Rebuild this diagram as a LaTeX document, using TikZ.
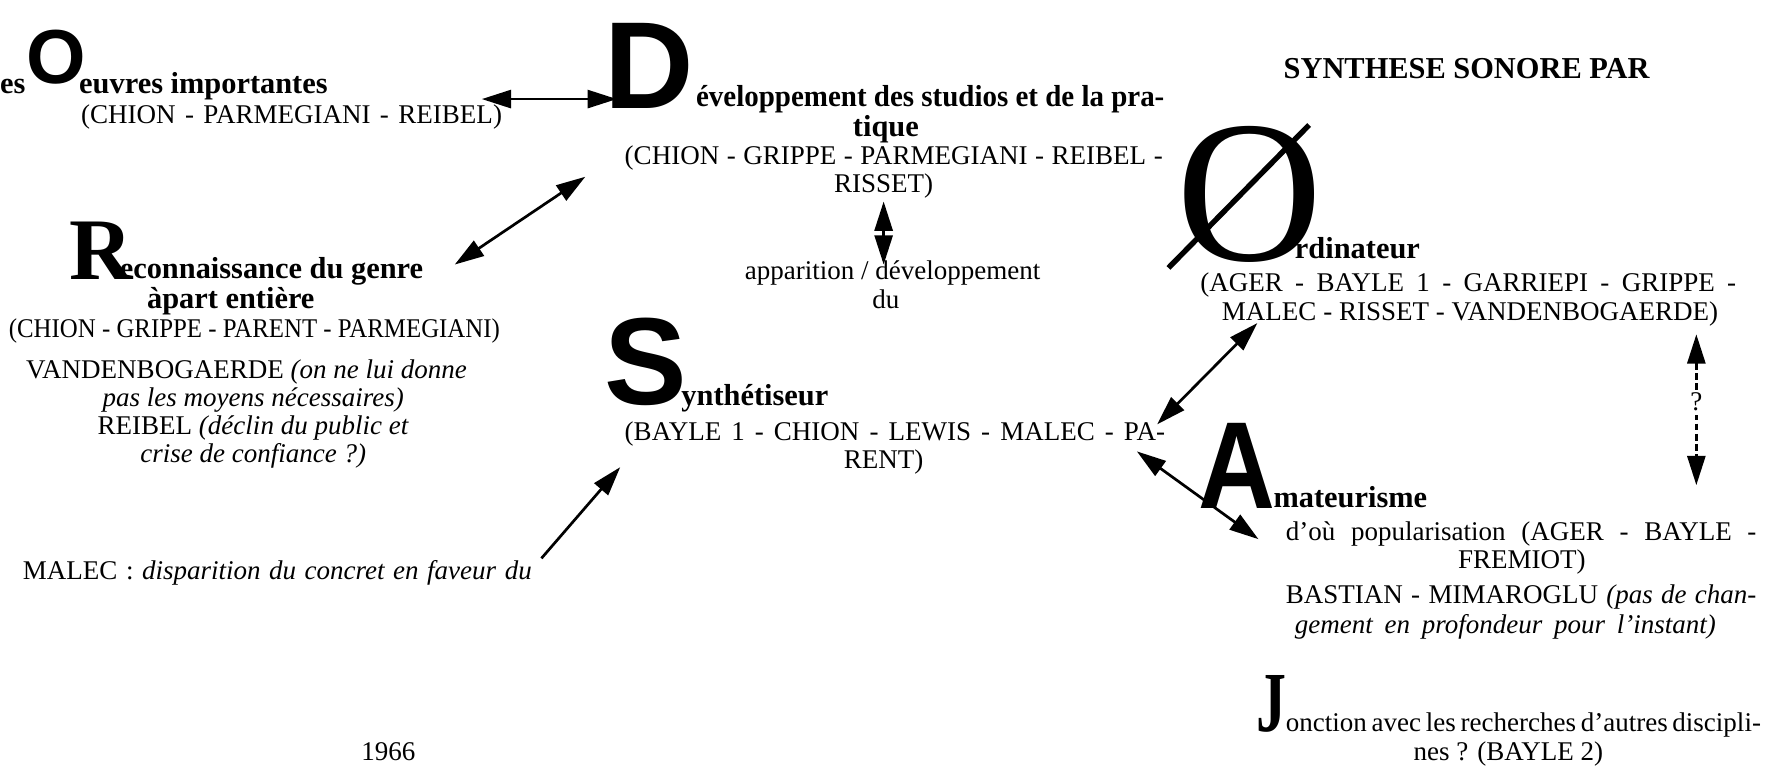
\documentclass[tikz,border=0pt]{standalone}
\usepackage{fontspec}
\usepackage{graphicx}
\setmainfont{Liberation Serif}
\newfontfamily\grotesk{Liberation Sans}
\usetikzlibrary{arrows.meta}
\newcommand\bodysize{\fontsize{12}{12.5}\selectfont}
\newcommand\headsize{\fontsize{13.5}{14}\selectfont\bfseries}
\newcommand\spread[2]{\makebox[#1][s]{#2}}
\newcommand\squeeze[2]{\resizebox{#1}{\height}{#2}}
\tikzset{
  txt/.style={inner sep=0pt, font=\bodysize},
  head/.style={inner sep=0pt, font=\headsize},
  initsans/.style={inner sep=0pt, font={\fontsize{#1}{#1}\grotesk\bfseries}},
  initserif/.style={inner sep=0pt, font={\fontsize{#1}{#1}\selectfont\bfseries}},
  tip/.style={Triangle[length=13pt,width=8pt]},
  link/.style={line width=1.2pt, {Triangle[length=13pt,width=8pt]}-{Triangle[length=13pt,width=8pt]}},
  oneway/.style={line width=1.2pt, -{Triangle[length=13pt,width=8pt]}},
  maybe/.style={line width=1.2pt, dash pattern=on 3pt off 1.5pt, {Triangle[length=13pt,width=8pt]}-{Triangle[length=13pt,width=8pt]}},
}
\begin{document}
\begin{tikzpicture}[x=0.5pt,y=-0.5pt]
\useasboundingbox (0,0) rectangle (1568,682);

% --- Oeuvres importantes
\node[head, anchor=base east] (les) at (23,83) {es};
\node[initsans=34, anchor=base west] (bigO) at (23,74) {O};
\node[head, anchor=base west] (oeuvres) at (70,83) {euvres importantes};
\node[txt, anchor=base] (oeuvresN) at (259,110) {\spread{187pt}{(CHION - PARMEGIANI - REIBEL)}};

% --- Developpement des studios
\node[initsans=55, anchor=base west] (bigD) at (537,96) {D};
\node[head, anchor=base west] (dev) at (618,95) {\squeeze{208pt}{éveloppement des studios et de la pra-}};
\node[head, anchor=base] (dev2) at (787,121) {tique};
\node[txt, anchor=base] (devN) at (794,146) {\spread{239pt}{(CHION - GRIPPE - PARMEGIANI - REIBEL -}};
\node[txt, anchor=base] (devN2) at (785,171) {RISSET)};
\node[txt, anchor=base] (appar) at (793,248) {apparition / développement};
\node[txt, anchor=base] (appar2) at (787,274) {du};

% --- Reconnaissance du genre
\node[initserif=39, anchor=base west] (bigR) at (61,248) {R};
\node[head, anchor=base west] (rec) at (106,247) {econnaissance du genre};
\node[head, anchor=base] (rec2) at (205,274) {àpart entière};
\node[txt, anchor=base] (recN) at (226,300) {\scalebox{0.92}[1]{(CHION - GRIPPE - PARENT - PARMEGIANI)}};
\node[txt, anchor=base] (vdb1) at (219,336) {VANDENBOGAERDE \textit{(on ne lui donne}};
\node[txt, anchor=base] (vdb2) at (225,361) {\textit{pas les moyens nécessaires)}};
\node[txt, anchor=base] (reib1) at (225,386) {REIBEL \textit{(déclin du public et}};
\node[txt, anchor=base] (reib2) at (225,411) {\textit{crise de confiance ?)}};

% --- Synthetiseur
\node[initsans=55, anchor=base west] (bigS) at (537,359) {S};
\node[head, anchor=base west] (syn) at (605,360) {ynthétiseur};
\node[txt, anchor=base] (synN) at (795,391) {\spread{240pt}{(BAYLE 1 - CHION - LEWIS - MALEC - PA-}};
\node[txt, anchor=base] (synN2) at (785,416) {RENT)};
\node[txt, anchor=base west] (malec) at (20,515) {\spread{226pt}{MALEC : \textit{disparition du concret en faveur du}}};
\node[txt, anchor=base] (year) at (345,676) {1966};

% --- Synthese sonore par ordinateur
\node[head, anchor=base west] (title) at (1140,70) {SYNTHESE SONORE PAR};
\node[inner sep=0pt, font={\fontsize{90}{90}\selectfont}, anchor=base west] (bigOrd) at (1045,231) {O};
\draw[line width=2.4pt] (1038,238) -- (1163,111);
\node[head, anchor=base west] (ord) at (1150,230) {rdinateur};
\node[txt, anchor=base west] (ordN) at (1066,259) {\spread{238pt}{(AGER - BAYLE 1 - GARRIEPI - GRIPPE -}};
\node[txt, anchor=base] (ordN2) at (1306,285) {MALEC - RISSET - VANDENBOGAERDE)};

% --- Amateurisme
\node[initsans=55, anchor=base west] (bigA) at (1064,452) {\scalebox{0.86}[1]{A}};
\node[head, anchor=base west] (ama) at (1131,451) {mateurisme};
\node[txt, anchor=base west] (ama1) at (1142,480) {\spread{209pt}{d’où popularisation (AGER - BAYLE -}};
\node[txt, anchor=base] (ama2) at (1352,505) {FREMIOT)};
\node[txt, anchor=base west] (bas1) at (1142,536) {\spread{209pt}{BASTIAN - MIMAROGLU \textit{(pas de chan-}}};
\node[txt, anchor=base west] (bas2) at (1150,563) {\spread{187pt}{\textit{gement en profondeur pour l’instant)}}};

% --- Jonction
\node[initserif=38, anchor=base west] (bigJ) at (1116,650) {\scalebox{0.7}[1]{J}};
\node[txt, anchor=base west] (jon) at (1142,650) {\spread{211pt}{onction avec les recherches d’autres discipli-}};
\node[txt, anchor=base] (jon2) at (1340,676) {nes ? (BAYLE 2)};

% --- connectors
\coordinate (oeL) at (428,88);   \coordinate (oeR) at (548,88);
\coordinate (drA) at (520,157);  \coordinate (drB) at (404,235);
\coordinate (dsA) at (785,179);  \coordinate (dsB) at (785,235);
\coordinate (msA) at (481,496);  \coordinate (msB) at (551,415);
\coordinate (osA) at (1117,287); \coordinate (osB) at (1028,377);
\coordinate (saA) at (1010,401); \coordinate (saB) at (1118,479);
\coordinate (oaA) at (1507,297); \coordinate (oaB) at (1507,431);

\draw[link] (oeL) -- (oeR);
\draw[link] (drA) -- (drB);
\draw[link] (dsA) -- (dsB);
\draw[oneway] (msA) -- (msB);
\draw[link] (osA) -- (osB);
\draw[link] (saA) -- (saB);
\draw[maybe] (oaA) -- (oaB);
\node[txt, fill=white, inner sep=1.5pt, anchor=base] (quest) at (1507,365) {?};
\end{tikzpicture}
\end{document}
